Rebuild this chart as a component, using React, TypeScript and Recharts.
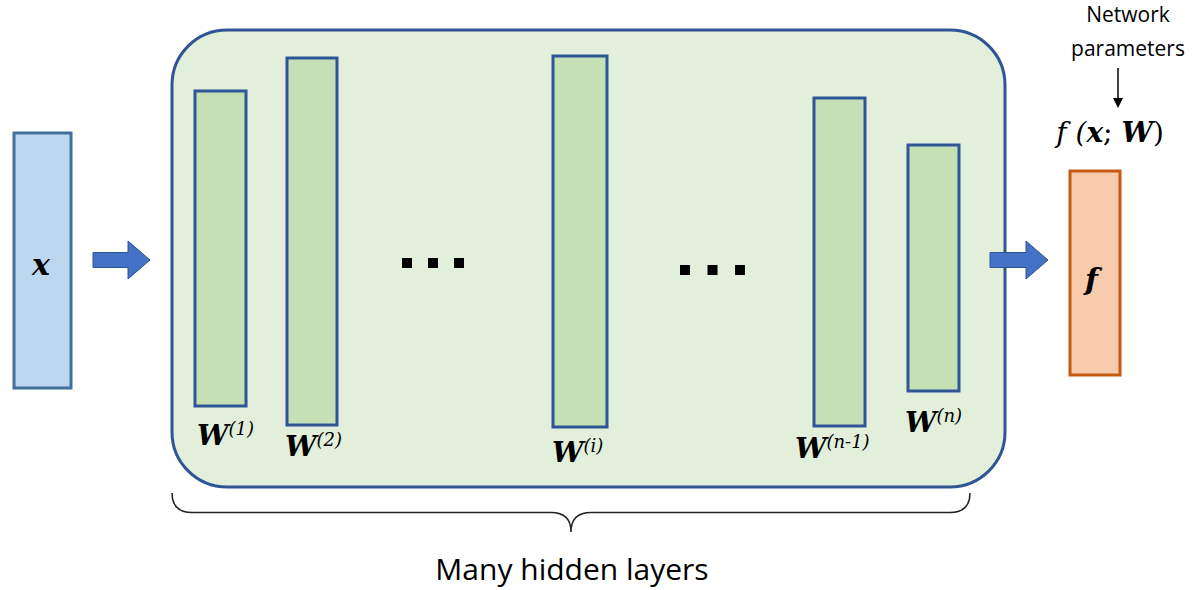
import { ComposedChart, ReferenceArea, Scatter, XAxis, YAxis } from "recharts";

// diagram boxes in page units: [x1, x2, y1, y2]
const inputBox = [14, 71, 133, 388];
const outputBox = [1070, 1120, 171, 375];
const hiddenPanel = [172, 1005, 30, 487];
const layerBoxes = [
  [195, 246, 91, 406],
  [287, 337, 58, 425],
  [553, 607, 56, 427],
  [814, 865, 98, 426],
  [908, 959, 145, 391],
];
const layerSups = ["(1)", "(2)", "(i)", "(n-1)", "(n)"];
const layerLabelPos = [
  [197, 445],
  [285, 456],
  [552, 462],
  [795, 458],
  [905, 432],
];
const arrows = [
  [93, 150, 245, 275],
  [990, 1048, 245, 275],
];
const dotGroups = [
  [402, 464, 257, 269],
  [680, 745, 264, 276],
];
const brace = [172, 970, 493, 532];
const anchors = [
  { x: 0, y: 0 },
  { x: 1192, y: 590 },
];

const blueStroke = "#2f5597";

const Box = (fill: string, stroke: string, rx = 0, sw = 3) => (p: any) => (
  <rect x={p.x} y={p.y} width={p.width} height={p.height} rx={rx} fill={fill} stroke={stroke} strokeWidth={sw} />
);

const Arrow = (p: any) => {
  const { x, y, width: w, height: h } = p;
  const hw = 22;
  return (
    <polygon
      points={`${x},${y + h * 0.25} ${x + w - hw},${y + h * 0.25} ${x + w - hw},${y - 4} ${x + w},${y + h / 2} ${x + w - hw},${y + h + 4} ${x + w - hw},${y + h * 0.75} ${x},${y + h * 0.75}`}
      fill="#4472c4"
      stroke="#2f5597"
      strokeWidth={1}
    />
  );
};

const Dots = (p: any) => {
  const cy = p.y + p.height / 2;
  return (
    <g fill="#000">
      {[0, 0.5, 1].map((t) => (
        <rect key={t} x={p.x + t * (p.width - 10)} y={cy - 5} width={10} height={10} />
      ))}
    </g>
  );
};

const Brace = (p: any) => {
  const { x, y, width: w, height: h } = p;
  const m = x + w / 2;
  const q = h / 2;
  return (
    <path
      d={`M${x},${y} Q${x},${y + q} ${x + 20},${y + q} L${m - 20},${y + q} Q${m},${y + q} ${m},${y + h} Q${m},${y + q} ${m + 20},${y + q} L${x + w - 20},${y + q} Q${x + w},${y + q} ${x + w},${y}`}
      fill="none"
      stroke="#222"
      strokeWidth={1.5}
    />
  );
};

const serif = "'DejaVu Serif', 'Liberation Serif', serif";
const sans = "'Open Sans', 'Noto Sans', sans-serif";

export default function App() {
  const area = (b: number[], shape: any, key: string) => (
    <ReferenceArea key={key} x1={b[0]} x2={b[1]} y1={b[2]} y2={b[3]} shape={shape} ifOverflow="visible" />
  );
  const textArea = (x: number, y: number, node: any, key: string) => (
    <ReferenceArea
      key={key}
      x1={x}
      x2={x + 1}
      y1={y}
      y2={y + 1}
      ifOverflow="visible"
      shape={(p: any) => <g transform={`translate(${p.x},${p.y})`}>{node}</g>}
    />
  );
  return (
    <div style={{ position: "absolute", left: 0, top: 0 }}>
      <ComposedChart width={1192} height={590} data={anchors} margin={{ top: 0, right: 0, bottom: 0, left: 0 }}>
        <XAxis type="number" dataKey="x" domain={[0, 1192]} allowDataOverflow hide />
        <YAxis type="number" dataKey="y" domain={[0, 590]} allowDataOverflow reversed hide />
        <Scatter data={anchors} dataKey="y" fill="none" isAnimationActive={false} />
        {area(hiddenPanel, Box("#e2efda", blueStroke, 55, 3), "panel")}
        {area(inputBox, Box("#bdd7ee", "#41719c", 0, 3), "in")}
        {area(outputBox, Box("#f8cbad", "#c55a11", 0, 3), "out")}
        {layerBoxes.map((b, i) => area(b, Box("#c5e0b4", blueStroke, 0, 3), `l${i}`))}
        {arrows.map((b, i) => area(b, Arrow, `a${i}`))}
        {dotGroups.map((b, i) => area(b, Dots, `d${i}`))}
        {area(brace, Brace, "brace")}
        {layerLabelPos.map(([x, y], i) =>
          textArea(
            x,
            y,
            <text fontFamily={serif} fontStyle="italic" fill="#000">
              <tspan fontWeight="bold" fontSize={28}>W</tspan>
              <tspan fontSize={18} dy={-10}>{layerSups[i]}</tspan>
            </text>,
            `t${i}`
          )
        )}
        {textArea(32, 275, <text fontFamily={serif} fontStyle="italic" fontWeight="bold" fontSize={30}>x</text>, "tx")}
        {textArea(1085, 290, <text fontFamily={serif} fontStyle="italic" fontWeight="bold" fontSize={30}>f</text>, "tf")}
        {textArea(1128, 22, <text fontFamily={sans} fontSize={21} textAnchor="middle">Network</text>, "n1")}
        {textArea(1128, 56, <text fontFamily={sans} fontSize={21} textAnchor="middle">parameters</text>, "n2")}
        {textArea(
          1118,
          68,
          <g>
            <line x1={0} y1={0} x2={0} y2={34} stroke="#000" strokeWidth={1.5} />
            <polygon points="-5,30 5,30 0,40" fill="#000" />
          </g>,
          "arr"
        )}
        {textArea(
          1110,
          142,
          <text fontFamily={serif} fontSize={28} textAnchor="middle" fontStyle="italic">
            f (<tspan fontWeight="bold">x</tspan><tspan fontStyle="normal">; </tspan><tspan fontWeight="bold">W</tspan><tspan fontStyle="normal">)</tspan>
          </text>,
          "fx"
        )}
        {textArea(572, 580, <text fontFamily={sans} fontSize={30} textAnchor="middle">Many hidden layers</text>, "many")}
      </ComposedChart>
    </div>
  );
}
